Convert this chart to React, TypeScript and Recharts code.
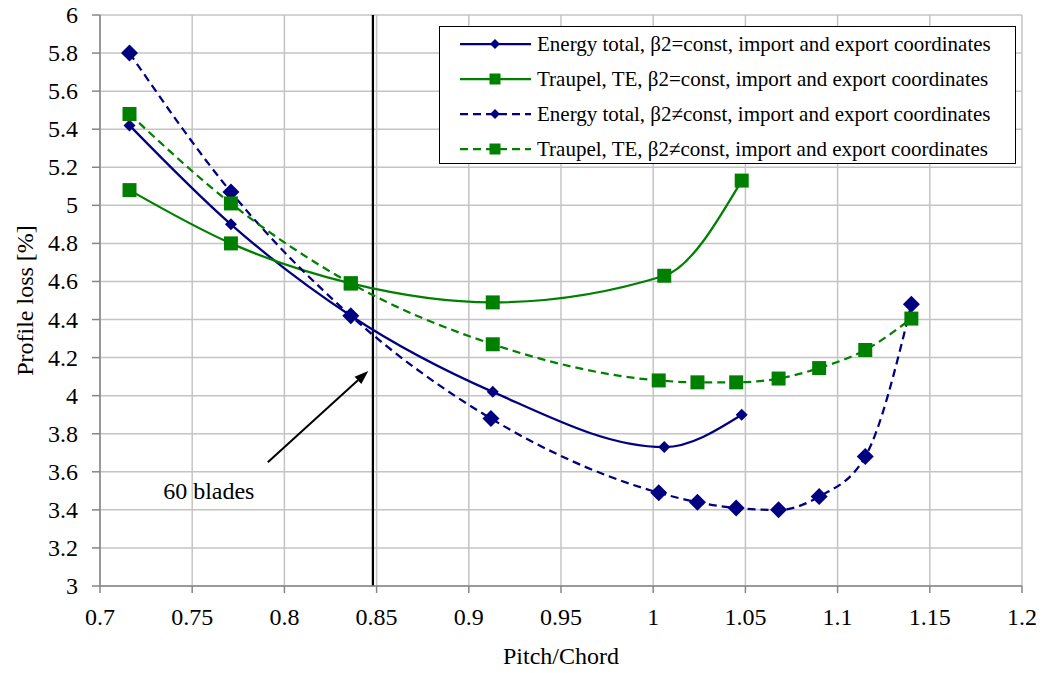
import React from 'react';
import {
  LineChart,
  Line,
  XAxis,
  YAxis,
  CartesianGrid,
  ReferenceLine,
  ReferenceDot,
} from 'recharts';

const NAVY = '#000080';
const GREEN = '#008000';
const FONT = '"Liberation Serif", "Times New Roman", serif';

// values
const energyConstX = [0.716, 0.771, 0.836, 0.913, 1.006, 1.048];
const energyConstY = [5.42, 4.9, 4.42, 4.02, 3.73, 3.9];

const traupelConstX = [0.716, 0.771, 0.836, 0.913, 1.006, 1.048];
const traupelConstY = [5.08, 4.8, 4.59, 4.49, 4.63, 5.13];

const energyVarX = [0.716, 0.771, 0.836, 0.912, 1.003, 1.024, 1.045, 1.068, 1.09, 1.115, 1.14];
const energyVarY = [5.8, 5.07, 4.42, 3.88, 3.49, 3.44, 3.41, 3.4, 3.47, 3.68, 4.48];

const traupelVarX = [0.716, 0.771, 0.836, 0.913, 1.003, 1.024, 1.045, 1.068, 1.09, 1.115, 1.14];
const traupelVarY = [5.48, 5.01, 4.59, 4.27, 4.08, 4.07, 4.07, 4.09, 4.145, 4.24, 4.405];

const xTicks = [0.7, 0.75, 0.8, 0.85, 0.9, 0.95, 1, 1.05, 1.1, 1.15, 1.2];
const yTicks = [3, 3.2, 3.4, 3.6, 3.8, 4, 4.2, 4.4, 4.6, 4.8, 5, 5.2, 5.4, 5.6, 5.8, 6];

const bladesX = 0.848;
const arrowFrom = { x: 0.791, y: 3.65 };
const arrowTo = { x: 0.8455, y: 4.13 };

const zip = (xs: number[], ys: number[]) => xs.map((x, i) => ({ x, y: ys[i] }));

const series = [
  { name: 'Energy total, β2=const, import and export coordinates', data: zip(energyConstX, energyConstY), color: NAVY, dash: undefined, marker: 'diamond', size: 6 },
  { name: 'Traupel, TE, β2=const, import and export coordinates', data: zip(traupelConstX, traupelConstY), color: GREEN, dash: undefined, marker: 'square', size: 7 },
  { name: 'Energy total, β2≠const, import and export coordinates', data: zip(energyVarX, energyVarY), color: NAVY, dash: '8 5', marker: 'diamond', size: 8.5 },
  { name: 'Traupel, TE, β2≠const, import and export coordinates', data: zip(traupelVarX, traupelVarY), color: GREEN, dash: '8 5', marker: 'square', size: 7 },
];

const markerPath = (marker: string, cx: number, cy: number, s: number) =>
  marker === 'diamond'
    ? `M${cx},${cy - s}L${cx + s},${cy}L${cx},${cy + s}L${cx - s},${cy}Z`
    : `M${cx - s},${cy - s}H${cx + s}V${cy + s}H${cx - s}Z`;

const makeDot = (marker: string, size: number, color: string) => (props: any) => {
  const { cx, cy, index } = props;
  if (cx == null || cy == null) return <g key={index} />;
  return <path key={index} d={markerPath(marker, cx, cy, size)} fill={color} stroke="none" />;
};

const LegendBox = () => (
  <div
    style={{
      position: 'absolute',
      left: 439,
      top: 26,
      width: 575,
      height: 136,
      border: '1.5px solid #000',
      background: '#fff',
      fontFamily: FONT,
      fontSize: 21,
      color: '#000',
    }}
  >
    {series.map((s, i) => (
      <div
        key={s.name}
        style={{ position: 'absolute', left: 0, top: 4 + i * 35, height: 26, display: 'flex', alignItems: 'center' }}
      >
        <svg width={97} height={20} style={{ flex: 'none' }}>
          <line x1={20} y1={10} x2={91} y2={10} stroke={s.color} strokeWidth={2.25} strokeDasharray={s.dash} />
          <path d={markerPath(s.marker, 55, 10, s.marker === 'diamond' ? 5 : 5.5)} fill={s.color} />
        </svg>
        <span style={{ whiteSpace: 'nowrap' }}>{s.name}</span>
      </div>
    ))}
  </div>
);

const ArrowShape = (props: any) => {
  const { x1, y1, x2, y2 } = props;
  const ang = Math.atan2(y2 - y1, x2 - x1);
  const len = 14;
  const w = 5;
  const bx = x2 - len * Math.cos(ang);
  const by = y2 - len * Math.sin(ang);
  const px = -Math.sin(ang) * w;
  const py = Math.cos(ang) * w;
  return (
    <g>
      <line x1={x1} y1={y1} x2={bx} y2={by} stroke="#000" strokeWidth={2} />
      <path d={`M${x2},${y2}L${bx + px},${by + py}L${bx - px},${by - py}Z`} fill="#000" />
    </g>
  );
};

const BladesLabel = (props: any) => {
  const { cx, cy } = props;
  return (
    <text x={cx} y={cy} textAnchor="middle" dominantBaseline="central" fontFamily={FONT} fontSize={24} fill="#000">
      60 blades
    </text>
  );
};

const XTick = (props: any) => {
  const { x, y, payload } = props;
  return (
    <text x={x} y={y} dy={17} textAnchor="middle" fontFamily={FONT} fontSize={24} fill="#000">
      {payload.value}
    </text>
  );
};

const YTick = (props: any) => {
  const { x, y, payload } = props;
  return (
    <text x={x} y={y} dy={8} textAnchor="end" fontFamily={FONT} fontSize={24} fill="#000">
      {payload.value}
    </text>
  );
};

export default function App() {
  return (
    <div style={{ position: 'absolute', left: 0, top: 0, width: 1044, height: 673, background: '#fff', fontFamily: FONT }}>
      <LineChart width={1044} height={673} margin={{ top: 15, right: 22, left: 30, bottom: 27 }}>
        <CartesianGrid stroke="#c4c4c4" strokeWidth={1.5} />
        <XAxis
          type="number"
          dataKey="x"
          domain={[0.7, 1.2]}
          ticks={xTicks}
          interval={0}
          allowDataOverflow
          height={60}
          stroke="#868686"
          strokeWidth={1.5}
          tickSize={7}
          tick={XTick}
          tickMargin={15}
          label={{ value: 'Pitch/Chord', position: 'insideBottom', offset: -18, fill: '#000', fontSize: 24, fontFamily: FONT }}
        />
        <YAxis
          type="number"
          dataKey="y"
          domain={[3, 6]}
          ticks={yTicks}
          interval={0}
          allowDataOverflow
          width={70}
          stroke="#868686"
          strokeWidth={1.5}
          tickSize={8}
          tick={YTick}
          tickMargin={14}
          label={{ value: 'Profile loss [%]', angle: -90, position: 'insideLeft', offset: -6, style: { textAnchor: 'middle' }, fill: '#000', fontSize: 24, fontFamily: FONT }}
        />
        <ReferenceLine x={bladesX} stroke="#000" strokeWidth={2.25} />
        <ReferenceLine segment={[arrowFrom, arrowTo]} shape={ArrowShape} ifOverflow="visible" />
        <ReferenceDot x={0.759} y={3.5} r={0} shape={BladesLabel} ifOverflow="visible" />
        {series.map((s) => (
          <Line
            key={s.name}
            data={s.data}
            dataKey="y"
            name={s.name}
            type="monotone"
            stroke={s.color}
            strokeWidth={2.25}
            strokeDasharray={s.dash}
            dot={makeDot(s.marker, s.size, s.color)}
            activeDot={false}
            isAnimationActive={false}
          />
        ))}
      </LineChart>
      <LegendBox />
    </div>
  );
}
